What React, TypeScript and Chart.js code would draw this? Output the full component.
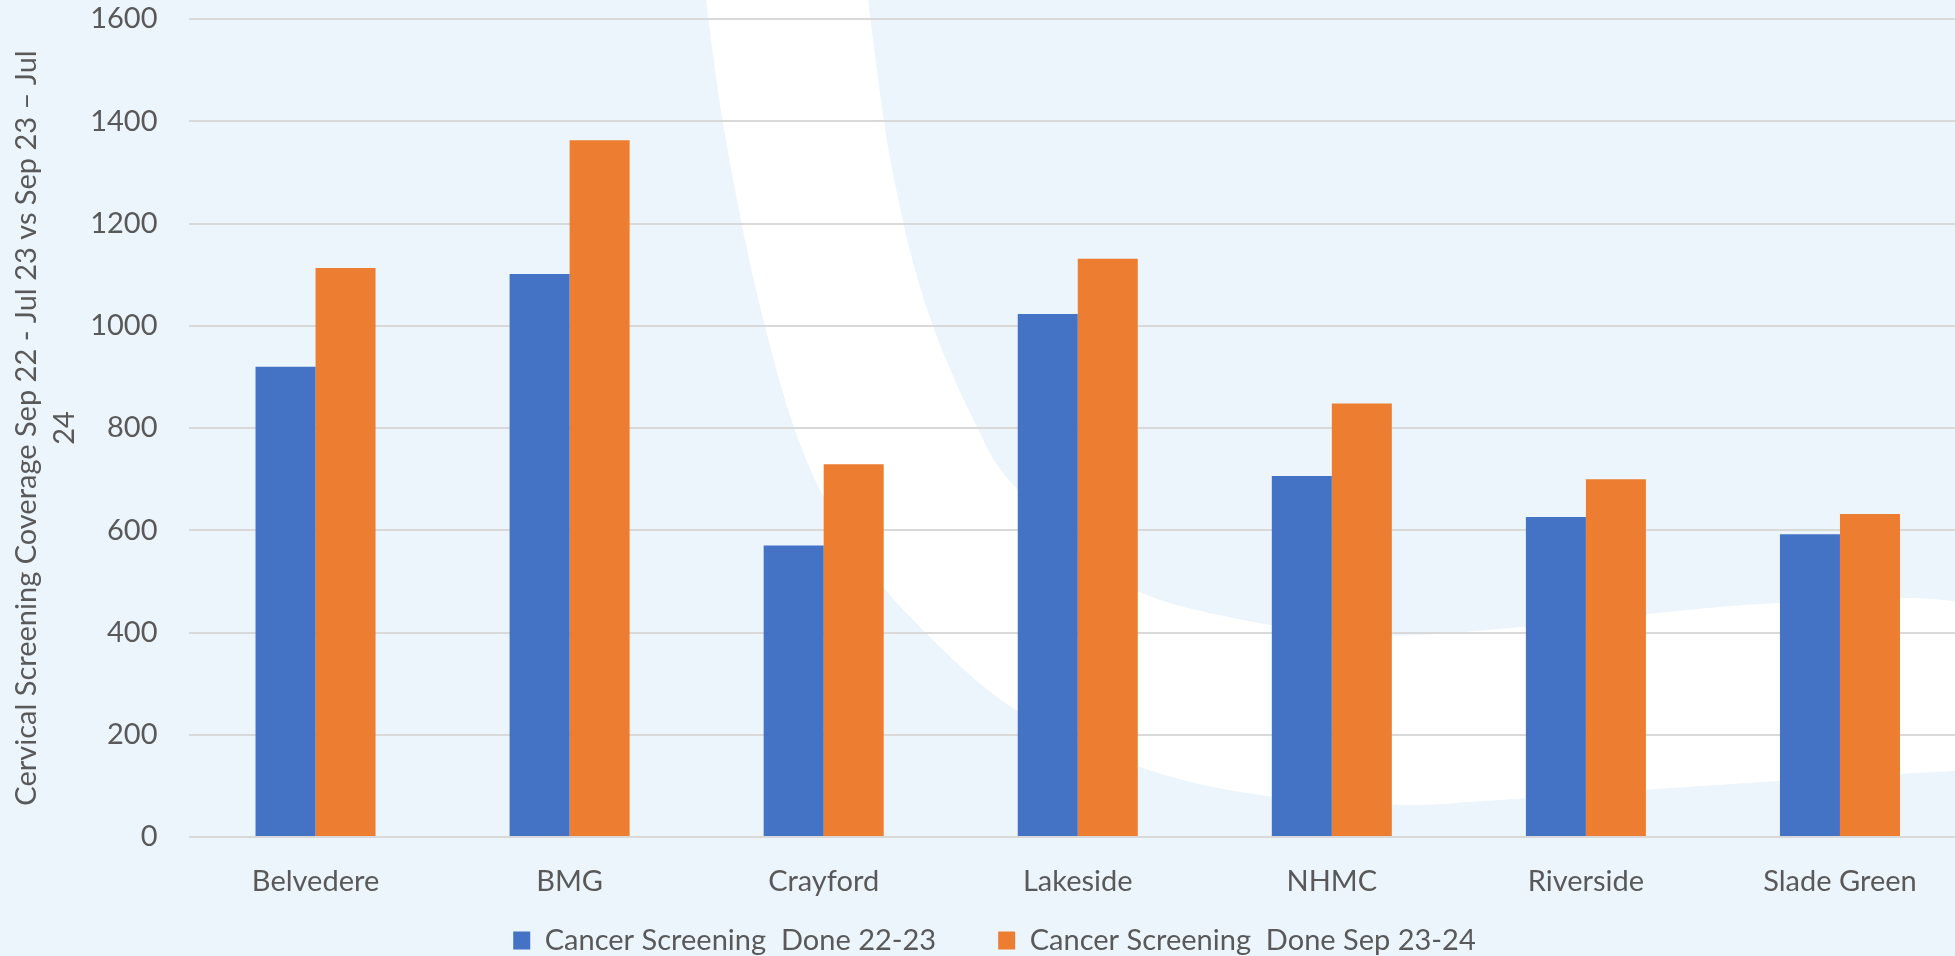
import React, { useEffect, useRef } from "react";
import { Chart, registerables } from "chart.js";

Chart.register(...registerables);

// Practices and screening counts
const practices = ["Belvedere", "BMG", "Crayford", "Lakeside", "NHMC", "Riverside", "Slade Green"];
const done2223 = [920, 1101, 570, 1023, 706, 626, 592];
const doneSep2324 = [1113, 1363, 729, 1131, 848, 700, 632];
const seriesNames = ["Cancer Screening  Done 22-23", "Cancer Screening  Done Sep 23-24"];
const yAxisMin = 0;
const yAxisMax = 1600;
const yAxisStep = 200;
const yAxisTitle = ["Cervical Screening Coverage Sep 22 - Jul 23 vs Sep 23 \u2013 Jul", "24"];

const BLUE = "#4472C4";
const ORANGE = "#ED7D31";
const TEXT = "#595959";
const GRID = "#D9D9D9";
const PAGE_BG = "#EDF5FC";
const FONT = "Lato, 'Liberation Sans', sans-serif";

const CANVAS_W = 1967;
const CANVAS_H = 965;
const LEGEND_GAP = 62;
const LEGEND_SHIFT = 11;

// Decorative white swoosh behind the plot (canvas pixel coordinates)
const swooshOuter: [number, number][] = [
  [706, 0], [725, 135], [758, 298], [800, 444], [850, 542], [916, 623],
  [1016, 710], [1149, 770], [1274, 797], [1399, 805], [1500, 800], [1732, 784], [1967, 770],
];
const swooshInner: [number, number][] = [
  [868, 0], [891, 163], [925, 303], [975, 423], [1016, 488], [1116, 580],
  [1233, 618], [1370, 635], [1500, 629], [1732, 606], [1900, 598], [1967, 603],
];

function splineThrough(ctx: CanvasRenderingContext2D, pts: [number, number][], moveFirst: boolean) {
  if (moveFirst) ctx.moveTo(pts[0][0], pts[0][1]);
  else ctx.lineTo(pts[0][0], pts[0][1]);
  for (let i = 0; i < pts.length - 1; i++) {
    const p0 = pts[Math.max(0, i - 1)];
    const p1 = pts[i];
    const p2 = pts[i + 1];
    const p3 = pts[Math.min(pts.length - 1, i + 2)];
    const c1x = p1[0] + (p2[0] - p0[0]) / 6;
    const c1y = p1[1] + (p2[1] - p0[1]) / 6;
    const c2x = p2[0] - (p3[0] - p1[0]) / 6;
    const c2y = p2[1] - (p3[1] - p1[1]) / 6;
    ctx.bezierCurveTo(c1x, c1y, c2x, c2y, p2[0], p2[1]);
  }
}

const backgroundPlugin = {
  id: "slideBackground",
  beforeDraw(chart: Chart) {
    const ctx = chart.ctx;
    ctx.save();
    ctx.fillStyle = PAGE_BG;
    ctx.fillRect(0, 0, chart.width, chart.height);
    ctx.beginPath();
    splineThrough(ctx, swooshOuter, true);
    const innerRev = [...swooshInner].reverse() as [number, number][];
    splineThrough(ctx, innerRev, false);
    ctx.closePath();
    ctx.fillStyle = "#FFFFFF";
    ctx.fill();
    ctx.restore();
  },
};

// Nudge the legend row slightly right of the canvas centre
const legendOffsetPlugin = {
  id: "legendOffset",
  afterLayout(chart: any) {
    const lg = chart.legend;
    if (lg) {
      lg.left += LEGEND_SHIFT;
      lg.right += LEGEND_SHIFT;
    }
  },
};

export default function App() {
  const canvasRef = useRef<HTMLCanvasElement | null>(null);

  useEffect(() => {
    if (!canvasRef.current) return;
    const chart = new Chart(canvasRef.current, {
      type: "bar",
      data: {
        labels: practices,
        datasets: [
          { label: seriesNames[0], data: done2223, backgroundColor: BLUE, borderWidth: 0 },
          { label: seriesNames[1], data: doneSep2324, backgroundColor: ORANGE, borderWidth: 0 },
        ],
      },
      options: {
        responsive: false,
        animation: false,
        devicePixelRatio: 1,
        layout: { padding: { top: 19, left: 0, right: 0, bottom: 0 } },
        datasets: {
          bar: { categoryPercentage: 0.4724, barPercentage: 1.0 },
        },
        plugins: {
          tooltip: { enabled: false },
          legend: {
            position: "bottom",
            labels: {
              color: TEXT,
              font: { family: FONT, size: 29 },
              boxWidth: 17,
              boxHeight: 18,
              padding: LEGEND_GAP,
            },
          },
        },
        scales: {
          x: {
            grid: { display: false, drawTicks: false },
            border: { display: false },
            ticks: { color: TEXT, font: { family: FONT, size: 29 }, padding: 27, maxRotation: 0 },
            afterFit: (scale: any) => {
              // keep the category labels compact so the legend sits close beneath them
              scale.height = 27;
              scale.paddingLeft = 0;
              scale.paddingRight = 0;
              scale._computeLabelArea = () => undefined;
            },
          },
          y: {
            min: yAxisMin,
            max: yAxisMax,
            ticks: {
              stepSize: yAxisStep,
              color: TEXT,
              font: { family: FONT, size: 29 },
              padding: 31,
              callback: (v: any) => String(v),
            },
            grid: { color: GRID, lineWidth: 2, drawTicks: false },
            border: { display: false },
            title: {
              display: true,
              text: yAxisTitle,
              color: TEXT,
              font: { family: FONT, size: 29, lineHeight: 1.31 },
              padding: { top: 8, bottom: 0 },
            },
            afterFit: (scale: any) => {
              scale.width = 188.5;
              scale.paddingTop = 0;
              scale.paddingBottom = 0;
            },
          },
        },
      },
      plugins: [backgroundPlugin, legendOffsetPlugin],
    });
    return () => chart.destroy();
  }, []);

  return (
    <div
      style={{
        position: "fixed",
        left: 0,
        top: 0,
        width: 1955,
        height: 956,
        overflow: "hidden",
        background: PAGE_BG,
      }}
    >
      <canvas ref={canvasRef} width={CANVAS_W} height={CANVAS_H} style={{ display: "block" }} />
    </div>
  );
}
